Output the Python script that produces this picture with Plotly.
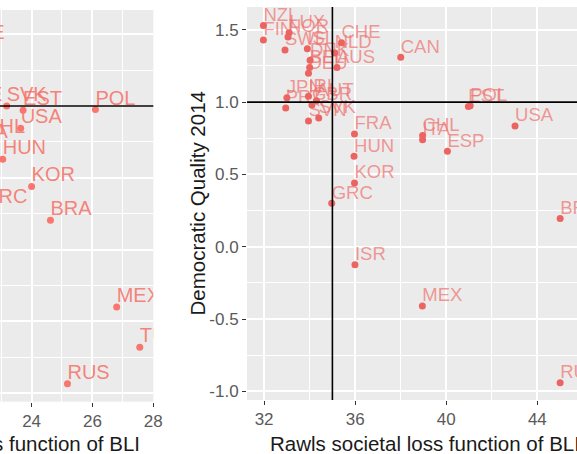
import plotly.graph_objects as go

# ---------------- data ----------------
# Left panel (only its right part is visible in the reference)
left_countries = ["CHE", "CZE", "SVK", "EST", "POL", "USA", "CHL", "ITA", "HUN",
                  "GRC", "KOR", "BRA", "MEX", "TUR", "RUS"]
left_x = [21.72, 21.72, 23.18, 23.72, 26.10, 23.64, 22.47, 22.24, 23.05,
          22.40, 24.00, 24.62, 26.80, 27.56, 25.18]
left_y = [1.43, 1.00, 1.00, 0.97, 0.975, 0.845, 0.777, 0.74, 0.63,
          0.29, 0.44, 0.205, -0.40, -0.68, -0.935]

# Right panel: Rawls societal loss function of BLI vs Democratic Quality 2014
right_countries = ["NZL", "FIN", "LUX", "NOR", "SWE", "ISL", "CHE", "NLD", "DNK",
                   "AUS", "BEL", "DEU", "CAN", "JPN", "IRL", "AUT", "PRT", "GBR",
                   "SVN", "SVK", "FRA", "HUN", "KOR", "GRC", "ISR", "MEX", "CHL",
                   "ITA", "ESP", "EST", "POL", "USA", "BRA", "RUS"]
right_x = [31.97, 31.97, 33.10, 33.05, 32.92, 33.90, 35.40, 35.10, 34.02,
           35.20, 34.00, 33.95, 38.00, 33.00, 33.95, 34.30, 32.95, 34.10,
           33.95, 34.40, 35.97, 35.95, 35.97, 34.97, 35.99, 38.95, 38.96,
           38.96, 40.05, 40.97, 41.05, 43.02, 45.00, 45.00]
right_y = [1.53, 1.43, 1.48, 1.45, 1.36, 1.37, 1.41, 1.34, 1.29,
           1.24, 1.24, 1.20, 1.31, 1.03, 1.04, 1.01, 0.96, 0.98,
           0.87, 0.89, 0.78, 0.625, 0.44, 0.30, -0.125, -0.41, 0.77,
           0.74, 0.66, 0.97, 0.975, 0.835, 0.195, -0.94]

left_xticks = [24, 26, 28]
left_xminor = [23, 25, 27]
right_xticks = [32, 36, 40, 44]
right_xminor = [34, 38, 42]
y_ticks = [-1.0, -0.5, 0.0, 0.5, 1.0, 1.5]
y_ticktext = ["-1.0", "-0.5", "0.0", "0.5", "1.0", "1.5"]
y_minor = [-0.75, -0.25, 0.25, 0.75, 1.25]

ref_y = 1.0
ref_x_right = 35

x_title = "Rawls societal loss function of BLI"
x_title_left_visible = "s function of BLI"
y_title = "Democratic Quality 2014"

# ---------------- figure ----------------
W, H = 577, 454
FONT = "Liberation Sans, Arial, sans-serif"

fig = go.Figure()
# left panel: labels then points
fig.add_trace(go.Scatter(
    x=left_x, y=left_y, text=left_countries, mode="text",
    textposition="top right",
    textfont=dict(family=FONT, size=20, color="rgba(245,118,108,0.9)"),
    xaxis="x", yaxis="y", cliponaxis=True, hoverinfo="skip"))
fig.add_trace(go.Scatter(
    x=left_x, y=left_y, mode="markers",
    marker=dict(color="#F8766D", size=7),
    xaxis="x", yaxis="y", cliponaxis=True, hoverinfo="skip"))
# right panel
fig.add_trace(go.Scatter(
    x=right_x, y=right_y, text=right_countries, mode="text",
    textposition="top right",
    textfont=dict(family=FONT, size=18.5, color="rgba(238,112,108,0.7)"),
    xaxis="x2", yaxis="y2", cliponaxis=True, hoverinfo="skip"))
fig.add_trace(go.Scatter(
    x=right_x, y=right_y, mode="markers",
    marker=dict(color="#EC6461", size=7),
    xaxis="x2", yaxis="y2", cliponaxis=True, hoverinfo="skip"))


def px_x(p):
    return p / W


def px_y(p):
    return (H - p) / H


tickfont = dict(family=FONT, size=17, color="#5a5a5a")


def minor(vals):
    return dict(tickvals=vals, showgrid=True, gridcolor="white", gridwidth=0.8)


common = dict(showgrid=True, gridcolor="white", gridwidth=1.6, zeroline=False,
              showline=False, automargin=False)

fig.update_layout(
    width=W, height=H, margin=dict(l=0, r=0, t=0, b=0, autoexpand=False),
    paper_bgcolor="white", plot_bgcolor="#EBEBEB", showlegend=False,
    xaxis=dict(domain=[0, px_x(153.3)], range=[22.96, 28.005],
               tickvals=left_xticks, minor=minor(left_xminor),
               ticks="outside", ticklen=4, tickwidth=1, tickcolor="#333333",
               tickfont=tickfont, **common),
    yaxis=dict(domain=[px_y(401.7), px_y(10)], range=[-1.0592, 1.6685],
               tickvals=y_ticks, showticklabels=False, ticks="",
               minor=minor(y_minor), **common),
    xaxis2=dict(domain=[px_x(247), 1], range=[31.25, 45.74], anchor="y2",
                tickvals=right_xticks, minor=minor(right_xminor),
                ticks="outside", ticklen=4, tickwidth=1, tickcolor="#333333",
                tickfont=tickfont, **common),
    yaxis2=dict(domain=[px_y(400), px_y(7)], range=[-1.060, 1.658], anchor="x2",
                tickvals=y_ticks, ticktext=y_ticktext, minor=minor(y_minor),
                ticks="outside", ticklen=4, tickwidth=1, tickcolor="#333333",
                tickfont=tickfont, **common),
)

line = dict(color="black", width=1.6)
fig.add_shape(type="line", xref="x domain", yref="y", x0=0, x1=1, y0=ref_y, y1=ref_y,
              line=line, layer="above")
fig.add_shape(type="line", xref="x2 domain", yref="y2", x0=0, x1=1, y0=ref_y, y1=ref_y,
              line=line, layer="above")
fig.add_shape(type="line", xref="x2", yref="y2 domain", x0=ref_x_right, x1=ref_x_right,
              y0=0, y1=1, line=line, layer="above")

title_font = dict(family=FONT, size=20.5, color="#1a1a1a")
fig.add_annotation(text=x_title, xref="paper", yref="paper", x=px_x(268), y=px_y(443),
                   xanchor="left", yanchor="middle", showarrow=False, font=title_font)
fig.add_annotation(text=x_title_left_visible, xref="paper", yref="paper",
                   x=px_x(141.7), y=px_y(443), xanchor="right", yanchor="middle",
                   showarrow=False, font=title_font)
fig.add_annotation(text=y_title, xref="paper", yref="paper", x=px_x(197), y=px_y(203.5),
                   xanchor="center", yanchor="middle", textangle=-90, showarrow=False,
                   font=title_font)

fig.write_html("out.html")
